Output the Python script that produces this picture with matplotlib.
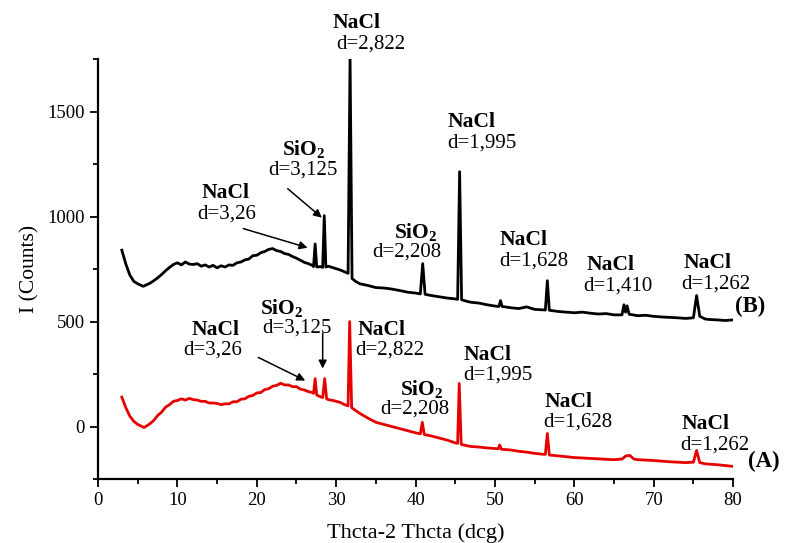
import matplotlib
matplotlib.use("Agg")
import matplotlib.pyplot as plt
from matplotlib.ticker import MultipleLocator

plt.rcParams["font.family"] = "Liberation Serif"
plt.rcParams["mathtext.fontset"] = "custom"
plt.rcParams["mathtext.rm"] = "Liberation Serif"
plt.rcParams["mathtext.bf"] = "Liberation Serif:bold"

# pattern (B), upper black curve
x_b = [3.0, 3.5, 4.0, 4.5, 5.0, 5.7, 6.5, 7.0, 7.5, 8.0, 8.5, 9.0, 9.5, 10.0,
       10.5, 11.0, 11.5, 12.0, 12.5, 13.0, 13.5, 14.0, 14.5, 15.0, 15.5, 16.0,
       16.5, 17.0, 17.5, 18.0, 18.5, 19.0, 19.5, 20.0, 20.5, 21.0, 21.5, 22.0,
       22.5, 23.0, 23.5, 24.0, 24.5, 25.0, 25.5, 26.0, 26.5, 27.0, 27.15, 27.35,
       27.55, 28.0, 28.3, 28.5, 28.7, 29.0, 29.5, 30.0, 30.5, 31.0, 31.5, 31.75,
       32.0, 32.5, 33.0, 34.0, 35.0, 36.0, 37.0, 38.0, 39.0, 40.0, 40.6, 40.9,
       41.2, 42.0, 43.0, 44.0, 45.0, 45.3, 45.55, 45.8, 46.5, 47.0, 48.0, 49.0,
       50.0, 50.5, 50.7, 50.9, 52.0, 53.0, 54.0, 55.0, 56.0, 56.35, 56.6, 56.85,
       58.0, 59.0, 60.0, 61.0, 62.0, 63.0, 64.0, 65.0, 66.0, 66.25, 66.45, 66.65,
       66.9, 68.0, 69.0, 70.0, 71.0, 72.0, 73.0, 74.0, 75.0, 75.4, 75.8, 76.5,
       77.0, 78.0, 79.0, 80.0]
y_b = [840, 775, 722, 692, 680, 668, 682, 694, 708, 724, 742, 758, 772, 780,
       770, 784, 774, 772, 776, 764, 770, 760, 768, 756, 766, 760, 770, 768,
       780, 784, 794, 798, 814, 816, 828, 834, 844, 848, 838, 834, 824, 820,
       810, 802, 792, 782, 776, 768, 762, 870, 760, 762, 758, 1005, 760, 764,
       758, 752, 746, 738, 730, 1760,
       705, 690, 680, 672, 662, 660, 655, 648, 640, 636, 632, 776,
       630, 624, 618, 612, 608, 606, 1214, 604, 596, 592, 588, 580,
       574, 572, 600, 572, 566, 562, 570, 558, 556, 555, 695, 554,
       548, 545, 542, 545, 540, 536, 538, 532, 532, 580, 545, 575,
       535, 528, 530, 525, 522, 520, 518, 515, 518, 624, 525, 512,
       510, 508, 505, 508]

# pattern (A), lower red curve
x_a = [3.0, 3.5, 4.0, 4.5, 5.0, 5.8, 6.5, 7.0, 7.5, 8.0, 8.5, 9.0, 9.5, 10.0,
       10.5, 11.0, 11.5, 12.0, 12.5, 13.0, 13.5, 14.0, 14.5, 15.0, 15.5, 16.0,
       16.5, 17.0, 17.5, 18.0, 18.5, 19.0, 19.5, 20.0, 20.5, 21.0, 21.5, 22.0,
       22.5, 23.0, 23.5, 24.0, 24.5, 25.0, 25.5, 26.0, 26.5, 27.0, 27.15, 27.35,
       27.55, 28.0, 28.3, 28.55, 28.8, 29.0, 29.5, 30.0, 30.5, 31.0, 31.5, 31.7,
       31.95, 32.5, 33.0, 34.0, 35.0, 36.0, 37.0, 38.0, 39.0, 40.0, 40.6, 40.85,
       41.1, 42.0, 43.0, 44.0, 45.0, 45.3, 45.5, 45.75, 46.5, 47.0, 48.0, 49.0,
       50.0, 50.4, 50.6, 50.8, 52.0, 53.0, 54.0, 55.0, 56.0, 56.35, 56.6, 56.85,
       58.0, 59.0, 60.0, 62.0, 64.0, 65.0, 66.0, 66.5, 67.0, 67.5, 68.0, 70.0,
       72.0, 74.0, 75.0, 75.4, 75.8, 76.5, 78.0, 79.0, 80.0]
y_a = [140, 90, 50, 25, 10, -5, 12, 28, 52, 68, 92, 104, 120, 124,
       132, 126, 134, 128, 126, 120, 120, 112, 112, 110, 104, 108,
       108, 118, 118, 130, 132, 144, 148, 160, 162, 176, 180, 192,
       196, 206, 198, 198, 190, 190, 178, 174, 166, 162, 158, 228,
       150, 142, 138, 228, 132, 128, 125, 120, 115, 105, 98, 500,
       90, 75, 62, 40, 20, 10, 0, -10, -20, -30, -35, 20,
       -38, -45, -55, -65, -78, -80, 205, -85, -92, -95, -98, -102,
       -105, -106, -88, -108, -112, -118, -122, -128, -132, -133, -33, -136,
       -140, -144, -148, -152, -156, -158, -155, -140, -138, -155, -158, -162,
       -168, -172, -170, -114, -172, -178, -182, -186, -190]

fig = plt.figure(figsize=(7.86, 5.43), dpi=100)
ax = fig.add_axes([0.1247, 0.1179, 0.808, 0.773])

ax.plot(x_b, y_b, color="black", lw=2.0)
ax.plot(x_a, y_a, color="#e60000", lw=2.0)

ax.set_xlim(0, 80)
ax.set_ylim(-250, 1750)
ax.xaxis.set_major_locator(MultipleLocator(10))
ax.xaxis.set_minor_locator(MultipleLocator(5))
ax.yaxis.set_major_locator(MultipleLocator(500))
ax.yaxis.set_minor_locator(MultipleLocator(250))
ax.tick_params(which="major", direction="out", length=6, width=1.3, labelsize=13.5)
ax.tick_params(which="minor", direction="out", length=3.5, width=1.3)
for s in ["top", "right"]:
    ax.spines[s].set_visible(False)
for s in ["left", "bottom"]:
    ax.spines[s].set_linewidth(1.6)

ax.set_xlabel("Thcta-2 Thcta (dcg)", fontsize=16, labelpad=10)
ax.set_ylabel("I (Counts)", fontsize=15.5, labelpad=6)

def label(x, y, name, dval, dx=0.0):
    ax.text(x, y, name, fontsize=15.5, fontweight="bold", ha="left", va="center",
            clip_on=False)
    ax.text(x + dx, y - 100, dval, fontsize=15, ha="left", va="center",
            clip_on=False)

sio2 = r"$\mathbf{SiO_2}$"

# labels for (B)
label(29.5, 1924, "NaCl", "d=2,822", dx=0.5)
label(23.2, 1324, sio2, "d=3,125", dx=-1.7)
label(13.1, 1114, "NaCl", "d=3,26", dx=-0.6)
label(37.3, 929, sio2, "d=2,208", dx=-2.7)
label(44.0, 1452, "NaCl", "d=1,995")
label(50.6, 890, "NaCl", "d=1,628")
label(61.5, 771, "NaCl", "d=1,410", dx=-0.4)
label(73.7, 781, "NaCl", "d=1,262", dx=-0.2)
ax.text(80.2, 571, "(B)", fontsize=16.5, fontweight="bold", va="center")

# labels for (A)
label(11.8, 462, "NaCl", "d=3,26", dx=-1.1)
label(20.4, 567, sio2, "d=3,125", dx=0.3)
label(32.7, 462, "NaCl", "d=2,822", dx=-0.3)
label(38.0, 181, sio2, "d=2,208", dx=-2.5)
label(46.0, 343, "NaCl", "d=1,995")
label(56.3, 119, "NaCl", "d=1,628", dx=-0.2)
label(73.5, 10, "NaCl", "d=1,262", dx=-0.2)
ax.text(81.9, -167, "(A)", fontsize=16.5, fontweight="bold", va="center",
        clip_on=False)

arrow = dict(arrowstyle="-|>", color="black", lw=1.1, mutation_scale=12,
             shrinkA=0, shrinkB=0)
ax.annotate("", xy=(28.2, 995), xytext=(23.9, 1133), arrowprops=arrow)
ax.annotate("", xy=(26.4, 852), xytext=(18.3, 943), arrowprops=arrow)
ax.annotate("", xy=(26.1, 219), xytext=(20.2, 329), arrowprops=arrow)
ax.annotate("", xy=(28.3, 276), xytext=(28.3, 443), arrowprops=arrow)

fig.savefig("out.png", dpi=100)
